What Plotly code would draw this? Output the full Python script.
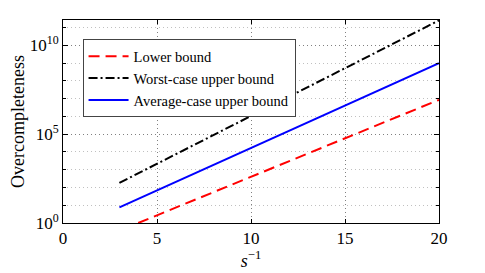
import plotly.graph_objects as go

# Data (x = s^-1, y = overcompleteness)
x_lower = [4, 5, 10, 15, 20]
y_lower = [1.0, 2.7, 4.0e2, 5.8e4, 8.5e6]

x_worst = [3, 5, 10, 15, 20]
y_worst = [1.8e2, 2.1e3, 1.05e6, 5.1e8, 2.5e11]

x_avg = [3, 5, 10, 15, 20]
y_avg = [7.6, 6.8e1, 1.66e4, 4.0e6, 9.8e8]

x_ticks = [0, 5, 10, 15, 20]
y_ticks = [1, 1e5, 1e10]
y_ticktext = ["10<sup>0</sup>", "10<sup>5</sup>", "10<sup>10</sup>"]
y_minor = [1e1, 1e2, 1e3, 1e4, 1e6, 1e7, 1e8, 1e9, 1e11]

font_family = "Liberation Serif"

fig = go.Figure()
fig.add_trace(go.Scatter(x=x_lower, y=y_lower, mode="lines", name="Lower bound",
                         line=dict(color="#ff0000", width=2, dash="11px,6px")))
fig.add_trace(go.Scatter(x=x_worst, y=y_worst, mode="lines", name="Worst-case upper bound",
                         line=dict(color="#000000", width=2, dash="9px,3px,2px,3px")))
fig.add_trace(go.Scatter(x=x_avg, y=y_avg, mode="lines", name="Average-case upper bound",
                         line=dict(color="#0000ff", width=2)))

# the page body adds an 8px margin, so the figure is drawn 8px smaller/shifted
fig.update_layout(
    width=477, height=265,
    margin=dict(l=55, r=46, t=12, b=50, autoexpand=False),
    paper_bgcolor="white", plot_bgcolor="white",
    font=dict(family=font_family, size=17, color="black"),
    showlegend=True,
    legend=dict(x=0.052, y=0.905, xanchor="left", yanchor="top",
                bgcolor="white", bordercolor="#444444", borderwidth=1,
                font=dict(family=font_family, size=14.5, color="black"),
                tracegroupgap=0, itemwidth=40),
)

fig.update_xaxes(
    range=[0, 20], tickvals=x_ticks, ticks="inside", ticklen=4, tickcolor="black",
    showline=True, linecolor="black", linewidth=1, mirror="ticks",
    showgrid=True, gridcolor="#808080", griddash="1px,3px", gridwidth=1,
    zeroline=False, automargin=False,
    tickfont=dict(size=17),
    title=dict(text="<i>s</i><sup>−1</sup>", standoff=3, font=dict(size=18)),
)
fig.update_yaxes(
    type="log", range=[0, 11.42], tickvals=y_ticks, ticktext=y_ticktext,
    ticks="inside", ticklen=5, tickcolor="black",
    showline=True, linecolor="black", linewidth=1, mirror="ticks",
    showgrid=True, gridcolor="#808080", griddash="1px,3px", gridwidth=1,
    zeroline=False, automargin=False,
    tickfont=dict(size=17),
    minor=dict(tickvals=y_minor, ticks="inside", ticklen=3, tickcolor="black",
               showgrid=True, gridcolor="#c0c0c0", griddash="1px,3px", gridwidth=1),
    title=dict(text="Overcompleteness", standoff=6, font=dict(size=18)),
)

fig.write_html("out.html")
